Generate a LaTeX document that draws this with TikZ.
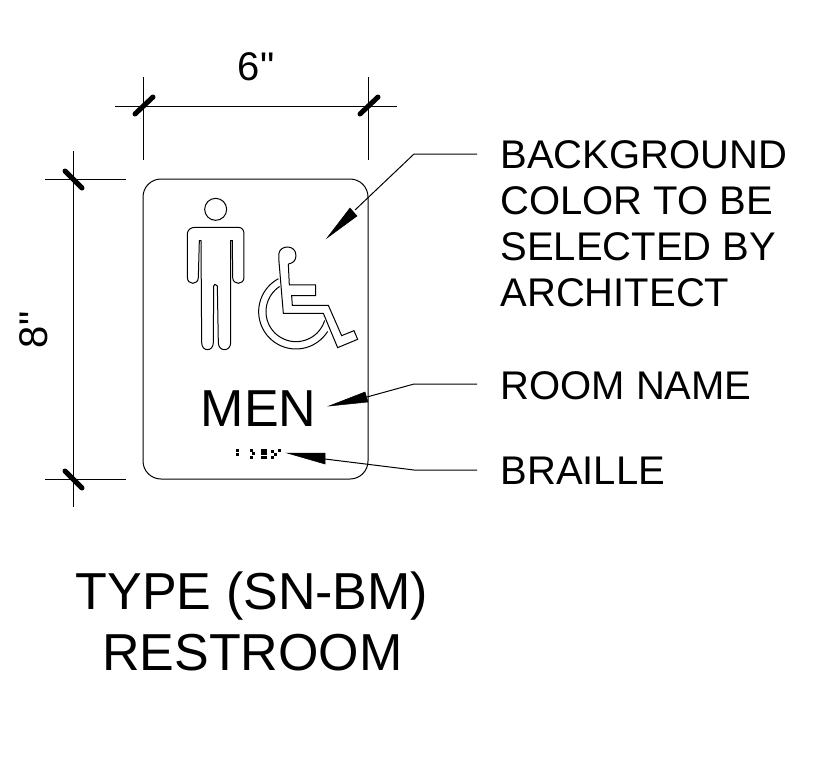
\documentclass[tikz,border=0pt]{standalone}
\usepackage{fontspec}
\setmainfont{Liberation Sans}
\newfontfamily\plainsans{Liberation Sans}
\begin{document}
\begin{tikzpicture}[x=1pt,y=-1pt,line width=1pt,
  label40/.style={anchor=west,inner sep=0pt,font=\fontsize{40}{40}\selectfont},
  big/.style={inner sep=0pt,font=\fontsize{52}{52}\selectfont},
  dimtext/.style={inner sep=0pt,font=\plainsans\fontsize{40}{40}\selectfont},
  tick/.style={line width=5pt,line cap=round},
  leader/.style={line width=1pt},
  head/.style={fill=black,draw=black,line width=0.5pt}]
\useasboundingbox (0,0) rectangle (832,756);
\fill[white] (0,0) rectangle (832,756);
% sign
\draw[rounded corners=18pt] (143,179) rectangle (368,479);
% dimensions
\coordinate (hl) at (115,106); \coordinate (hr) at (397,106);
\coordinate (v1a) at (143,77); \coordinate (v1b) at (143,160);
\coordinate (v2a) at (368,77); \coordinate (v2b) at (368,160);
\draw (hl) -- (hr) (v1a) -- (v1b) (v2a) -- (v2b);
\draw[tick] (135,114) -- (153,97);
\draw[tick] (360,114) -- (378,97);
\coordinate (vt) at (73,151); \coordinate (vb) at (73,507);
\coordinate (e1a) at (45,179); \coordinate (e1b) at (126,179);
\coordinate (e2a) at (45,479); \coordinate (e2b) at (126,479);
\draw (vt) -- (vb) (e1a) -- (e1b) (e2a) -- (e2b);
\draw[tick] (65,171) -- (82,188);
\draw[tick] (65,471) -- (82,488);
\node[dimtext] (six) at (256,67) {6"};
\node[dimtext,rotate=90] (eight) at (34,330) {8"};
% labels
\node[label40] (l1) at (500,155) {BACKGROUND};
\node[label40] (l2) at (500,201) {COLOR TO BE};
\node[label40] (l3) at (500,247) {SELECTED BY};
\node[label40] (l4) at (500,293) {ARCHITECT};
\node[label40] (l5) at (500,386) {ROOM NAME};
\node[label40] (l6) at (500,471) {BRAILLE};
\node[big] (men) at (258.5,409) {MEN};
\node[big] (t1) at (252,596) {TYPE (SN-BM)};
\node[big] (t2) at (252.5,653) {RESTROOM};
% leaders
\coordinate (a1) at (327,238); \coordinate (a2) at (329,406); \coordinate (a3) at (287,453);
\draw[leader] (477,154) -- (414,154) -- (355,210);
\filldraw[head] (a1) -- (350,208) -- (357,216) -- cycle;
\draw[leader] (477,384) -- (414,384) -- (367,397);
\filldraw[head] (a2) -- (365,392) -- (368,402) -- cycle;
\draw[leader] (477,470) -- (414,470) -- (325,459);
\filldraw[head] (a3) -- (325,453) -- (325,464) -- cycle;
% braille
\foreach \bx/\by in {237/450,237/454,251/450,253/453,251/457,262/450,265/450,262/453,265/453,262/457,265/457,272/451,272/457,275/454,279/450}
  \fill[black] (\bx-1.5,\by-1.5) rectangle (\bx+1.5,\by+1.5);
% figures in zoomed coordinates
\begin{scope}[shift={(170,190)},x=0.3333pt,y=-0.3333pt]
\draw (137,58) circle[radius=11pt];
\draw (75,112) -- (205,112) .. controls (216,112) and (222,120) .. (222,132)
 -- (222,262) .. controls (222,286) and (188,286) .. (188,262)
 -- (187,152) -- (182,152) -- (182,458) .. controls (182,486) and (145,486) .. (145,458)
 -- (142,288) -- (135,283) -- (131,288) -- (130,458) .. controls (130,486) and (95,486) .. (95,458)
 -- (93,152) -- (88,152) -- (85,262) .. controls (85,286) and (52,286) .. (52,262)
 -- (52,132) .. controls (52,120) and (62,112) .. (75,112) -- cycle;
\draw (355,222) -- (358,285) -- (437,285) -- (437,317) -- (365,317) -- (367,346) -- (475,346)
 -- (515,437) -- (552,422) -- (563,448) -- (503,473) -- (460,370) -- (340,370) -- (327,215)
 -- (327,190) .. controls (330,165) and (378,162) .. (378,197)
 .. controls (378,212) and (368,220) .. (355,222);
\draw plot[smooth,domain=32:242,samples=40] ({378+112*cos(\x)},{365+112*sin(\x)});
\draw plot[smooth,domain=17:237,samples=40] ({378+90*cos(\x)},{365+90*sin(\x)});
\end{scope}
\end{tikzpicture}
\end{document}
